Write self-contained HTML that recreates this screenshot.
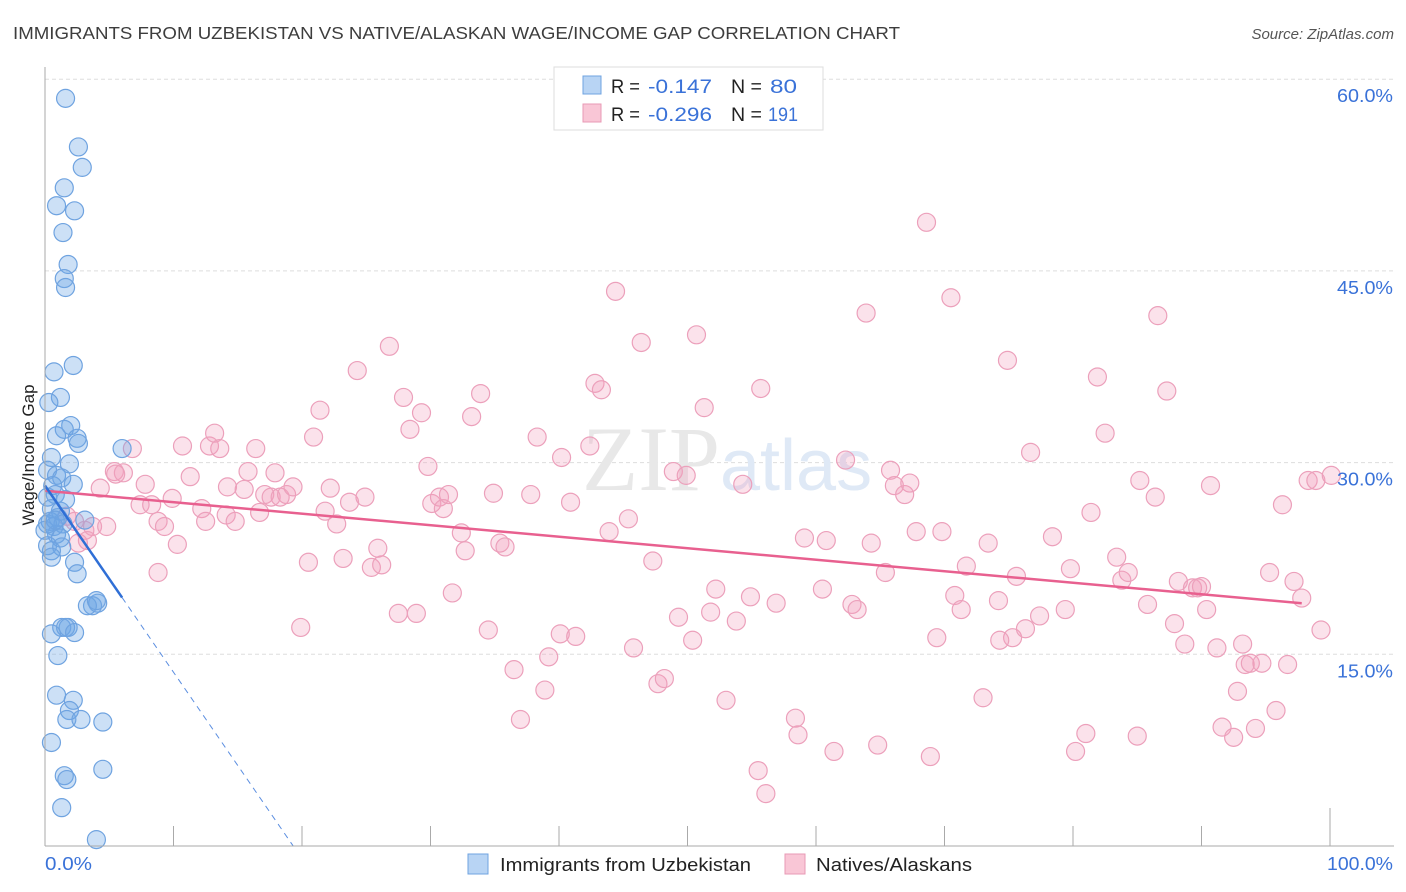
<!DOCTYPE html>
<html><head><meta charset="utf-8"><style>
body{margin:0;background:#fff;font-family:"Liberation Sans",sans-serif;}
svg{display:block}
</style></head><body>
<svg id="chart" width="1406" height="892">
<text x="13" y="39" font-size="17.5" fill="#3d3d3d" textLength="887" lengthAdjust="spacingAndGlyphs">IMMIGRANTS FROM UZBEKISTAN VS NATIVE/ALASKAN WAGE/INCOME GAP CORRELATION CHART</text>
<text x="1394" y="39" font-size="15" fill="#555" font-style="italic" text-anchor="end">Source: ZipAtlas.com</text>
<g id="grid"></g>
<text x="720" y="490" font-size="92" fill="#e8e8e8" text-anchor="end" font-family="Liberation Serif">ZIP</text>
<text x="720" y="490" font-size="72" fill="#dfe9f6">atlas</text>
<g id="pts"></g>
<g id="lines"></g>
<g id="axes"></g>
<text transform="translate(34,455) rotate(-90)" font-size="17" fill="#222" text-anchor="middle">Wage/Income Gap</text>
<g>
<rect x="554" y="67" width="269" height="63" fill="#fff" stroke="#ddd"/>
<rect x="583" y="76" width="18" height="18" fill="#b8d4f4" stroke="#6fa3e0"/>
<text x="611" y="93" font-size="19" fill="#222" textLength="29" lengthAdjust="spacingAndGlyphs">R =</text>
<text x="648" y="93" font-size="19" fill="#3a72d8" textLength="64" lengthAdjust="spacingAndGlyphs">-0.147</text>
<text x="731" y="93" font-size="19" fill="#222" textLength="31" lengthAdjust="spacingAndGlyphs">N =</text>
<text x="770" y="93" font-size="19" fill="#3a72d8" textLength="27" lengthAdjust="spacingAndGlyphs">80</text>
<rect x="583" y="104" width="18" height="18" fill="#f9c6d6" stroke="#e89ab5"/>
<text x="611" y="121" font-size="19" fill="#222" textLength="29" lengthAdjust="spacingAndGlyphs">R =</text>
<text x="648" y="121" font-size="19" fill="#3a72d8" textLength="64" lengthAdjust="spacingAndGlyphs">-0.296</text>
<text x="731" y="121" font-size="19" fill="#222" textLength="31" lengthAdjust="spacingAndGlyphs">N =</text>
<text x="768" y="121" font-size="19" fill="#3a72d8" textLength="30" lengthAdjust="spacingAndGlyphs">191</text>
</g>
<g>
<rect x="468" y="854" width="20" height="20" fill="#b8d4f4" stroke="#6fa3e0"/>
<text x="500" y="871" font-size="18" fill="#222" textLength="251" lengthAdjust="spacingAndGlyphs">Immigrants from Uzbekistan</text>
<rect x="785" y="854" width="20" height="20" fill="#f9c6d6" stroke="#e89ab5"/>
<text x="816" y="871" font-size="18" fill="#222" textLength="156" lengthAdjust="spacingAndGlyphs">Natives/Alaskans</text>
</g>
</svg>
<script>
const yTicks=[15,30,45,60];
const yTickLabels=["15.0%","30.0%","45.0%","60.0%"];
const xTicks=[0,10,20,30,40,50,60,70,80,90,100];
const xEndLabels=["0.0%","100.0%"];
const blueX=[1.6,2.6,2.9,1.5,0.9,2.3,1.4,1.8,1.5,1.6,2.2,0.7,1.2,0.3,2.0,1.5,0.9,2.5,2.6,6.0,0.5,1.9,0.2,0.9,1.3,2.2,0.6,0.8,0.2,0.5,1.2,1.0,3.1,0.4,1.4,0.7,0.9,1.2,0.2,1.3,0.5,0.5,2.3,2.5,4.1,3.7,3.3,4.0,1.3,1.8,1.6,2.3,0.5,1.0,0.9,2.2,1.9,1.7,2.8,4.5,0.5,1.5,1.7,4.5,1.3,4.0,0.2,0.0,0.8,1.6];
const blueY=[58.5,54.7,53.1,51.5,50.1,49.7,48.0,45.5,44.4,43.7,37.6,37.1,35.1,34.7,32.9,32.6,32.1,31.9,31.5,31.1,30.4,29.9,29.4,29.0,28.8,28.3,28.2,27.5,27.3,26.4,26.2,25.7,25.5,25.4,25.2,25.0,24.4,24.1,23.5,23.4,23.1,22.6,22.2,21.3,19.0,18.8,18.8,19.2,17.1,17.1,17.1,16.7,16.6,14.9,11.8,11.4,10.6,9.9,9.9,9.7,8.1,5.5,5.2,6.0,3.0,0.5,25.2,24.7,25.5,27.1];
const pinkX=[1.7,2.3,3.1,3.7,4.8,2.6,3.3,4.3,5.4,6.1,5.5,6.8,7.8,7.4,8.3,8.8,9.3,9.9,10.3,8.8,10.7,11.3,12.2,12.5,12.8,13.2,13.6,14.1,14.2,14.8,15.5,15.8,16.4,16.7,17.1,17.6,17.9,18.3,18.8,19.3,19.9,20.5,20.9,21.4,21.8,22.2,22.7,23.2,23.7,24.3,24.9,25.4,25.9,26.2,26.8,27.5,27.9,28.4,28.9,29.3,29.8,30.1,30.7,31.0,31.4,31.7,32.4,32.7,33.2,33.9,34.5,34.9,35.4,35.8,36.5,37.0,37.8,38.3,38.9,39.2,40.1,40.2,40.9,41.3,42.4,42.8,43.3,43.9,44.4,45.4,45.8,46.4,47.3,47.7,48.2,48.9,49.3,49.9,50.4,50.7,51.3,51.8,52.2,53.0,53.8,54.3,54.9,55.5,55.7,56.1,56.9,58.4,58.6,59.1,60.5,60.8,61.4,62.3,62.8,63.2,63.9,64.3,64.8,65.4,65.8,66.1,66.9,67.3,67.8,68.6,68.9,69.4,69.8,70.5,70.8,71.3,71.7,73.0,73.4,74.2,74.9,75.3,75.6,76.3,76.7,77.4,78.4,79.4,79.8,80.2,81.0,81.4,82.5,81.9,83.4,83.8,84.3,85.0,85.2,85.8,86.4,86.6,87.3,87.9,88.2,88.7,89.3,89.7,90.0,90.4,90.7,91.2,91.6,92.5,93.2,93.4,93.8,94.2,94.7,95.3,95.8,96.3,96.7,97.2,97.8,98.3,98.9,100.1,99.3,74.3,92.8];
const pinkY=[25.8,25.4,24.7,25.0,25.0,23.7,23.9,28.0,29.3,29.2,29.1,31.1,28.3,26.7,26.7,25.4,25.0,27.2,23.6,21.4,31.3,28.9,26.4,25.4,31.3,32.3,31.1,25.9,28.1,25.4,27.9,29.3,31.1,26.1,27.5,27.3,29.2,27.3,27.5,28.1,17.1,22.2,32.0,34.1,26.2,28.0,25.2,22.5,26.9,37.2,27.3,21.8,23.3,22.0,39.1,18.2,35.1,32.6,18.2,33.9,29.7,26.8,27.3,26.4,27.5,19.8,24.5,23.1,33.6,35.4,16.9,27.6,23.7,23.4,13.8,9.9,27.5,32.0,12.2,14.8,16.6,30.4,26.9,16.4,31.3,36.2,35.7,24.6,43.4,25.6,15.5,39.4,22.3,12.7,13.1,29.3,17.9,29.0,16.1,40.0,34.3,18.3,20.1,11.4,17.6,28.3,19.5,5.9,35.8,4.1,19.0,10.0,8.7,24.1,20.1,23.9,7.4,30.2,18.9,18.5,41.7,23.7,7.9,21.4,29.4,28.2,27.5,28.4,24.6,48.8,7.0,16.3,24.6,42.9,19.6,18.5,21.9,11.6,23.7,19.2,38.0,16.3,21.1,17.0,30.8,18.0,24.2,18.5,21.7,7.4,8.8,26.1,32.3,36.7,22.6,20.8,21.4,8.6,28.6,18.9,27.3,41.5,35.6,17.4,20.7,15.8,20.2,20.2,20.3,18.5,28.2,15.5,9.3,8.5,15.8,14.2,14.3,9.2,14.3,21.4,10.6,26.7,14.2,20.7,19.4,28.6,28.6,29.0,16.9,16.1,12.1];
const blueTrend=[28.2,-1.46];
const blueSolidEnd=6.0, blueDashEnd=19.3;
const pinkTrend=[27.8,-0.09];
const pinkEnd=97.8;

const NS="http://www.w3.org/2000/svg";
const X=v=>45+v*12.85;
const Y=v=>846-v*12.78;
function mk(tag,attrs,parent){const e=document.createElementNS(NS,tag);for(const k in attrs)e.setAttribute(k,attrs[k]);parent.appendChild(e);return e;}
const grid=document.getElementById('grid'),axes=document.getElementById('axes'),pts=document.getElementById('pts'),lines=document.getElementById('lines');
yTicks.forEach((t,i)=>{
  const l=mk('line',{x1:45,x2:1394,y1:Y(t),y2:Y(t),stroke:'#ddd','stroke-dasharray':'4,3'},grid);
  
  
  const tx=mk('text',{x:1393,y:Y(t)+23,'font-size':18,fill:'#3a72d8','text-anchor':'end',textLength:56,lengthAdjust:'spacingAndGlyphs'},axes);
  tx.textContent=yTickLabels[i];
  
  
});
const ax=mk('line',{x1:45,x2:1394,y1:846,y2:846,stroke:'#aaa'},axes);


const ay=mk('line',{x1:45,x2:45,y1:67,y2:846,stroke:'#aaa'},axes);


xTicks.forEach(t=>{
  const tk=mk('line',{x1:X(t),x2:X(t),y1:t===100?808:826,y2:846,stroke:'#aaa'},axes);
  
  
});
const xl0=mk('text',{x:45,y:870,'font-size':18,fill:'#3a72d8',textLength:47,lengthAdjust:'spacingAndGlyphs'},axes);xl0.textContent=xEndLabels[0];


const xl1=mk('text',{x:1393,y:870,'font-size':18,fill:'#3a72d8','text-anchor':'end',textLength:66,lengthAdjust:'spacingAndGlyphs'},axes);xl1.textContent=xEndLabels[1];


pinkX.forEach((v,i)=>{
  const c=mk('circle',{cx:X(v),cy:Y(pinkY[i]),r:9,fill:'rgba(243,160,190,0.3)',stroke:'#eca0bb','stroke-width':1.2},pts);
  
  
});
blueX.forEach((v,i)=>{
  const c=mk('circle',{cx:X(v),cy:Y(blueY[i]),r:9,fill:'rgba(110,165,230,0.35)',stroke:'#6fa3e0','stroke-width':1.2},pts);
  
  
});
const pl=mk('line',{x1:X(0),y1:Y(pinkTrend[0]),x2:X(pinkEnd),y2:Y(pinkTrend[0]+pinkTrend[1]*pinkEnd),stroke:'#e8608f','stroke-width':2.5},lines);


const bl=mk('line',{x1:X(0),y1:Y(blueTrend[0]),x2:X(blueSolidEnd),y2:Y(blueTrend[0]+blueTrend[1]*blueSolidEnd),stroke:'#2f6fd6','stroke-width':2.5},lines);


const bd=mk('line',{x1:X(blueSolidEnd),y1:Y(blueTrend[0]+blueTrend[1]*blueSolidEnd),x2:X(blueDashEnd),y2:Y(blueTrend[0]+blueTrend[1]*blueDashEnd),stroke:'#5b8ee0','stroke-width':1,'stroke-dasharray':'6,5'},lines);


</script>
</body></html>
